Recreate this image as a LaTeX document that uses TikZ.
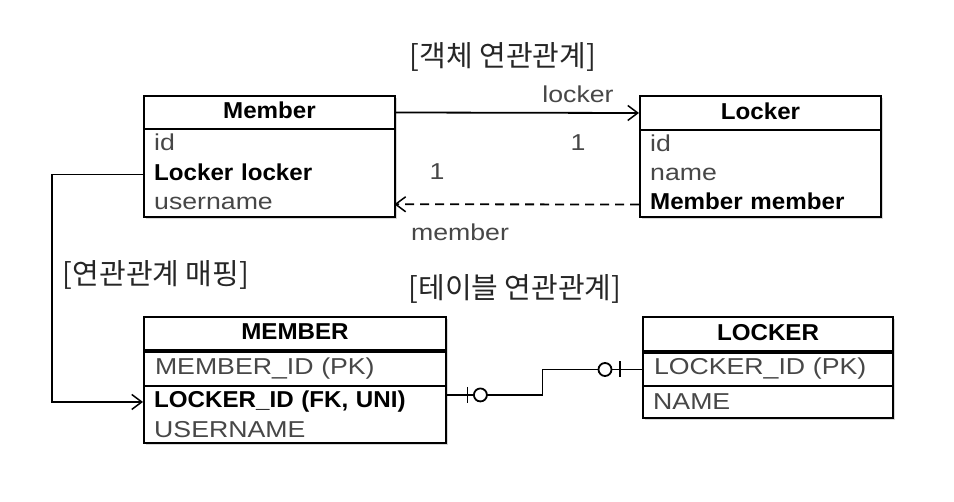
\documentclass[tikz,border=0pt]{standalone}
\usepackage{fontspec}
\setmainfont{Liberation Sans}[FakeStretch=1.16, BoldFeatures={FakeStretch=1.05}]
\newfontfamily\kr{Noto Sans CJK KR}
\usetikzlibrary{arrows.meta,shadows,calc}
\begin{document}
\begin{tikzpicture}[x=1pt,y=-1pt,
 every node/.style={font=\fontsize{23}{27}\selectfont},
 box/.style={draw, line width=2pt, fill=white, drop shadow={shadow xshift=2pt,shadow yshift=-2pt,opacity=0.3}, inner sep=0pt, anchor=north west},
 hdr/.style={draw, line width=2pt, inner sep=0pt, anchor=north west, font=\fontsize{23}{27}\selectfont\bfseries, text height=17pt, text depth=4pt},
 row/.style={inner xsep=11pt, inner ysep=0pt, anchor=north west, align=left, text height=16pt, text depth=5pt, text=black!72},
 key/.style={row, text=black, font=\fontsize{23}{27}\selectfont\bfseries},
 drow/.style={row, draw, line width=2pt},
 lbl/.style={text=black!72},
 ttl/.style={font=\kr\fontsize{29}{34}\selectfont, text=black!85},
 conn/.style={line width=1.8pt},
 tip/.style={-{Straight Barb[length=10pt,width=15pt,line width=1.5pt]}}
]
\useasboundingbox[fill=white] (0,0) rectangle (954,502);

% Titles
\node[ttl] (t1) at (503,57) {[객체 연관관계]};
\node[ttl] (t2) at (156,275) {[연관관계 매핑]};
\node[ttl] (t3) at (515,289) {[테이블 연관관계]};

% Member (object)
\node[box, minimum width=251, minimum height=121] (member) at (143,95) {};
\node[hdr, minimum width=251, minimum height=33] (memh) at (member.north west) {Member};
\node[row, text width=229pt, minimum height=29.3] (mid) at (memh.south west) {id};
\node[key, text width=229pt, minimum height=29.3] (mlock) at (mid.south west) {Locker locker};
\node[row, text width=229pt, minimum height=29.3] (muser) at (mlock.south west) {username};

% Locker (object)
\node[box, minimum width=241, minimum height=121] (locker) at (639,95) {};
\node[hdr, minimum width=241, minimum height=34] (lockh) at (locker.north west) {Locker};
\node[row, text width=219pt, minimum height=29] (lid) at (lockh.south west) {id};
\node[row, text width=219pt, minimum height=29] (lname) at (lid.south west) {name};
\node[key, text width=219pt, minimum height=29] (lmem) at (lname.south west) {Member member};

% MEMBER (table)
\node[box, minimum width=302, minimum height=126] (tmember) at (143,316) {};
\node[hdr, minimum width=302, minimum height=33] (tmh) at (tmember.north west) {MEMBER};
\node[drow, text width=280pt, minimum height=34] (mpk) at (tmh.south west) {MEMBER\_ID (PK)};
\node[key, text width=280pt, minimum height=29.5] (mfk) at (mpk.south west) {LOCKER\_ID (FK, UNI)};
\node[row, text width=280pt, minimum height=29.5] (mun) at (mfk.south west) {USERNAME};

% LOCKER (table)
\node[box, minimum width=250, minimum height=101] (tlocker) at (642,316) {};
\node[hdr, minimum width=250, minimum height=34] (tlh) at (tlocker.north west) {LOCKER};
\node[drow, text width=228pt, minimum height=33] (lpk) at (tlh.south west) {LOCKER\_ID (PK)};
\node[row, text width=228pt, minimum height=34] (lnm) at (lpk.south west) {NAME};

% object associations
\draw[conn,tip] (memh.east) -- (lockh.west);
\draw[conn,tip,dash pattern=on 9pt off 6pt] (lmem.west) -- (muser.east);
\node[lbl] (lbl1) at (578,94) {locker};
\node[lbl] (lbl2) at (578,143) {1};
\node[lbl] (lbl3) at (437,172) {1};
\node[lbl] (lbl4) at (460,232) {member};

% mapping
\draw[conn,tip] (mlock.west) -- ++(-91,0) |- (mfk.west);

% table relationship
\coordinate (e1) at ([yshift=7pt]mfk.east);
\coordinate (e2) at (lpk.west);
\draw[conn] (e1) -- ++(97,0) |- (e2);
\draw[conn] ($(e1)+(22,-8)$) -- ($(e1)+(22,8)$);
\draw[conn,fill=white] ($(e1)+(35,0)$) circle (6.5);
\draw[conn] ($(e2)+(-22,-8)$) -- ($(e2)+(-22,8)$);
\draw[conn,fill=white] ($(e2)+(-37,0)$) circle (6.5);
\end{tikzpicture}
\end{document}
